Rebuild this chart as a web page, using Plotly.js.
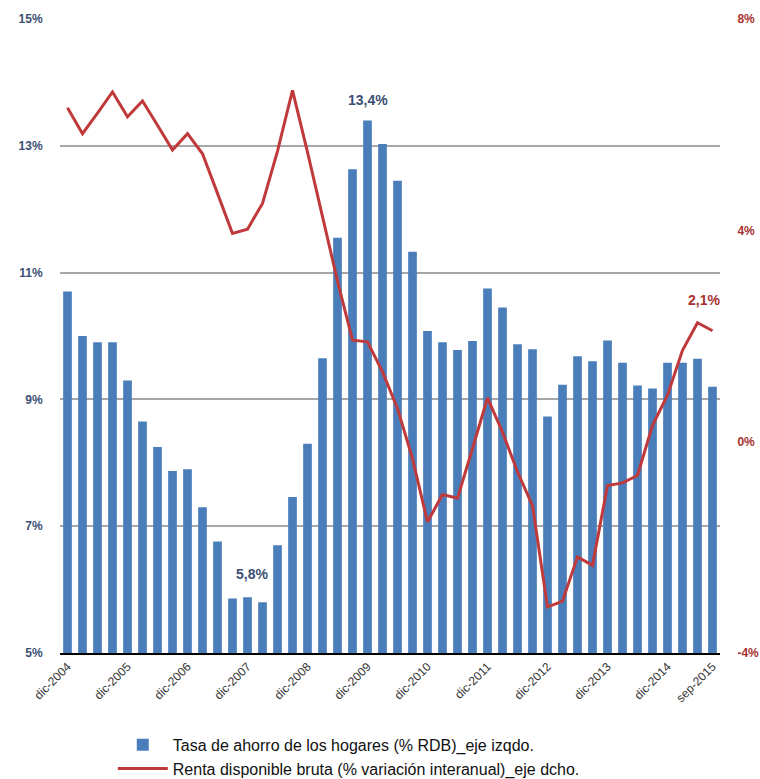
<!DOCTYPE html>
<html><head><meta charset="utf-8">
<script src="https://cdn.plot.ly/plotly-3.0.1.min.js"></script>
<style>html,body{margin:0;padding:0;background:#fff}#chart{width:760px;height:779px}</style>
</head><body><div id="chart"></div>
<script>
const quarters = [
  "dic-2004",
  "mar-2005","jun-2005","sep-2005","dic-2005",
  "mar-2006","jun-2006","sep-2006","dic-2006",
  "mar-2007","jun-2007","sep-2007","dic-2007",
  "mar-2008","jun-2008","sep-2008","dic-2008",
  "mar-2009","jun-2009","sep-2009","dic-2009",
  "mar-2010","jun-2010","sep-2010","dic-2010",
  "mar-2011","jun-2011","sep-2011","dic-2011",
  "mar-2012","jun-2012","sep-2012","dic-2012",
  "mar-2013","jun-2013","sep-2013","dic-2013",
  "mar-2014","jun-2014","sep-2014","dic-2014",
  "mar-2015","jun-2015","sep-2015"
];
const tickQuarters = ["dic-2004","dic-2005","dic-2006","dic-2007","dic-2008","dic-2009",
  "dic-2010","dic-2011","dic-2012","dic-2013","dic-2014","sep-2015"];
const savingsRate = [10.7, 10.0, 9.9, 9.9, 9.3, 8.65, 8.25, 7.87, 7.9, 7.3,
  6.76, 5.86, 5.88, 5.8, 6.7, 7.46, 8.3, 9.65, 11.55, 12.63,
  13.4, 13.03, 12.45, 11.33, 10.08, 9.9, 9.78, 9.92, 10.75, 10.45,
  9.87, 9.79, 8.73, 9.23, 9.68, 9.6, 9.93, 9.58, 9.22, 9.17,
  9.58, 9.58, 9.64, 9.2];
const incomeGrowth = [6.32, 5.83, 6.22, 6.62, 6.15, 6.45, 5.99, 5.52, 5.83, 5.45,
  4.7, 3.94, 4.02, 4.51, 5.5, 6.65, 5.48, 4.25, 3.04, 1.92,
  1.89, 1.32, 0.63, -0.32, -1.52, -1.0, -1.07, -0.13, 0.83, 0.18,
  -0.57, -1.21, -3.13, -3.02, -2.18, -2.34, -0.83, -0.78, -0.64, 0.31,
  0.88, 1.73, 2.25, 2.1];
const leftTicks = [5, 7, 9, 11, 13, 15];
const leftTickText = ["5%", "7%", "9%", "11%", "13%", "15%"];
const rightTicks = [-4, 0, 4, 8];
const rightTickText = ["-4%", "0%", "4%", "8%"];
const seriesNames = ["Tasa de ahorro de los hogares (% RDB)_eje izqdo.",
  "Renta disponible bruta (% variación interanual)_eje dcho."];

const FONT = '"Liberation Sans Narrow", "Liberation Sans", Arial, sans-serif';
const BLUE = '#4a7ebb';
const RED = '#c0393b';
const LEFTC = '#3b4f74';
const RIGHTC = '#a8322f';

const traces = [
  {type: 'bar', x: quarters, y: savingsRate, name: seriesNames[0],
   marker: {color: BLUE}, yaxis: 'y'},
  {type: 'scatter', mode: 'lines', x: quarters, y: incomeGrowth, name: seriesNames[1],
   line: {color: RED, width: 3}, yaxis: 'y2'}
];

const layout = {
  width: 760, height: 779,
  margin: {l: 60, r: 40, t: 19, b: 126, autoexpand: false},
  paper_bgcolor: '#fff', plot_bgcolor: '#fff',
  font: {family: FONT, size: 12, color: '#333'},
  bargap: 0.42,
  showlegend: true,
  legend: {x: 0.08, y: -0.118, xanchor: 'left', yanchor: 'top', orientation: 'v',
    font: {family: FONT, size: 16, color: '#111'}, tracegroupgap: 0, itemwidth: 50,
    bgcolor: 'rgba(0,0,0,0)'},
  xaxis: {type: 'category', range: [-0.5, 43.5], tickvals: tickQuarters, ticktext: tickQuarters,
    tickangle: -45, showline: true, linecolor: '#000', linewidth: 2, showgrid: false,
    ticks: '', automargin: false, tickfont: {family: FONT, size: 12, color: '#333'}, zeroline: false},
  yaxis: {range: [5, 15], tickvals: leftTicks, ticktext: leftTickText, showgrid: true, automargin: false,
    gridcolor: '#a6a6a6', gridwidth: 2, zeroline: false, ticks: 'outside', ticklen: 14,
    tickcolor: 'rgba(0,0,0,0)', tickfont: {family: FONT, size: 12, color: LEFTC, weight: 'bold'}},
  yaxis2: {range: [-4, 8], tickvals: rightTicks, ticktext: rightTickText, overlaying: 'y', side: 'right',
    showgrid: false, zeroline: false, ticks: 'outside', ticklen: 14, automargin: false,
    tickcolor: 'rgba(0,0,0,0)', tickfont: {family: FONT, size: 12, color: RIGHTC, weight: 'bold'}},
  annotations: [
    {xref: 'x', yref: 'y', x: 20, y: 13.4, text: '<b>13,4%</b>', showarrow: false,
     yanchor: 'bottom', yshift: 10, font: {family: FONT, size: 14, color: LEFTC}},
    {xref: 'x', yref: 'y', x: 12.3, y: 6.25, text: '<b>5,8%</b>', showarrow: false,
     font: {family: FONT, size: 14, color: LEFTC}},
    {xref: 'x', yref: 'y', x: 44.07, y: 9.54, text: '<b>9,2%</b>', showarrow: false,
     font: {family: FONT, size: 14, color: LEFTC}},
    {xref: 'x', yref: 'y2', x: 42.4, y: 2.68, text: '<b>2,1%</b>', showarrow: false,
     font: {family: FONT, size: 14, color: RIGHTC}}
  ]
};

Plotly.newPlot('chart', traces, layout, {displayModeBar: false, staticPlot: true});
</script>
</body></html>
